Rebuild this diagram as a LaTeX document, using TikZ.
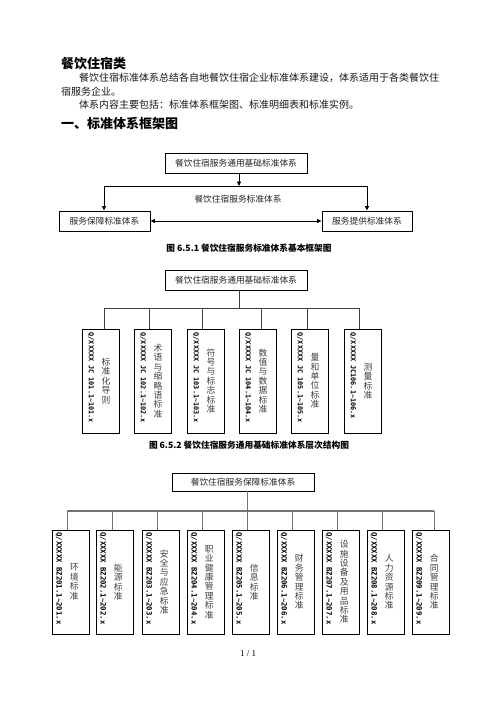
\documentclass[tikz,border=0pt]{standalone}
\usepackage{fontspec}
\setmainfont{Liberation Serif}
\newfontfamily\cjk{Noto Sans CJK SC}
\newfontfamily\codef{DejaVu Sans Mono}
\usetikzlibrary{arrows.meta,calc}
\tikzset{
  box/.style={draw=black, line width=0.9pt, inner sep=0pt, font=\cjk\fontsize{8.7}{10}\selectfont, text=black!85},
  vbox/.style={draw=black, line width=0.9pt, inner sep=0pt, minimum width=37pt, minimum height=104pt},
  arr/.style={-{Triangle[length=4.5pt,width=4pt]}, line width=0.9pt},
  darr/.style={{Triangle[length=4.5pt,width=4pt]}-{Triangle[length=4.5pt,width=4pt]}, line width=0.9pt},
  conn/.style={draw=black!75, line width=0.8pt},
  conn3/.style={draw=black!55, line width=0.9pt},
  bus3/.style={draw=black!55, line width=1.5pt},
  codeA/.style={font=\codef\bfseries\fontsize{6.8}{7}\selectfont, inner sep=0pt, rotate=-90, anchor=west},
  codeB/.style={font=\codef\bfseries\fontsize{7.3}{8}\selectfont, inner sep=0pt, rotate=-90, anchor=west},
  vcn/.style={font=\cjk\fontsize{8.8}{9.4}\selectfont, align=center, inner sep=0pt, text=black!75},
  lbl/.style={font=\cjk\fontsize{8.7}{10}\selectfont, text=black!85, inner sep=0pt},
  captxt/.style={font=\cjk\bfseries\fontsize{8.7}{10}\selectfont, inner sep=0pt},
  para/.style={font=\cjk\fontsize{10}{12}\selectfont, anchor=west, inner sep=0pt, text=black!90},
  headtxt/.style={font=\cjk\bfseries\fontsize{13}{14}\selectfont, anchor=west, inner sep=0pt},
}
\begin{document}
\begin{tikzpicture}[x=1pt,y=-1pt]
\useasboundingbox[fill=white] (0,0) rectangle (496,702);

% heading text
\node[headtxt] (title) at (61,63.5) {餐饮住宿类};
\node[para] (p1) at (79,78) {餐饮住宿标准体系总结各自地餐饮住宿企业标准体系建设，体系适用于各类餐饮住};
\node[para] (p2) at (61,92) {宿服务企业。};
\node[para] (p3) at (79,105) {体系内容主要包括：标准体系框架图、标准明细表和标准实例。};
\node[headtxt] (h1) at (61,124) {一、标准体系框架图};

% ---------- Figure 6.5.1 ----------
\node[box, minimum width=142pt, minimum height=20pt] (t1) at (236,163) {餐饮住宿服务通用基础标准体系};
\coordinate (j1) at (239,186);
\coordinate (hl1) at (104,186);
\coordinate (hr1) at (367,186);
\node[box, minimum width=91pt, minimum height=20pt] (sl) at (104.5,221) {服务保障标准体系};
\node[box, minimum width=90pt, minimum height=20pt] (sr) at (367,221) {服务提供标准体系};
\draw[arr] (j1 |- t1.south) -- (j1);
\draw[line width=0.9pt] (hl1) -- (hr1);
\draw[arr] (hl1) -- (sl.north -| hl1);
\draw[arr] (hr1) -- (sr.north -| hr1);
\draw[darr] (sl.east) -- (sr.west);
\node[lbl] (lab1) at (238,199) {餐饮住宿服务标准体系};
\node[captxt] (cap1) at (249,248) {图 6.5.1 餐饮住宿服务标准体系基本框架图};

% ---------- Figure 6.5.2 ----------
\node[box, minimum width=142pt, minimum height=20pt] (t2) at (236,280) {餐饮住宿服务通用基础标准体系};
\coordinate (j2) at (239,308);
\draw[conn] (j2 |- t2.south) -- (j2);
\coordinate (hl2) at (104,308);
\coordinate (hr2) at (359,308);
\draw[conn] (hl2) -- (hr2);
\foreach \i/\lx/\dx/\cd/\tx in {
  1/82/104/{Q/XXXXX JC 101.1\textasciitilde101.x}/{标\\准\\化\\导\\则},
  2/134/149/{Q/XXXXX JC 102.1\textasciitilde102.x}/{术\\语\\与\\缩\\略\\语\\标\\准},
  3/187/202/{Q/XXXXX JC 103.1\textasciitilde103.x}/{符\\号\\与\\标\\志\\标\\准},
  4/239/261/{Q/XXXXX JC 104.1\textasciitilde104.x}/{数\\值\\与\\数\\据\\标\\准},
  5/291/307/{Q/XXXXX JC 105.1\textasciitilde105.x}/{量\\和\\单\\位\\标\\准},
  6/344/359/{Q/XXXXX JC106.1\textasciitilde106.x}/{测\\量\\标\\准}}{
  \node[vbox] (a\i) at (\lx+18.5,381) {};
  \coordinate (da\i) at (\dx,308);
  \draw[conn] (da\i) -- (a\i.north -| da\i);
  \node[codeA] (ca\i) at ($(a\i.north west)+(9.5pt,-4pt)$) {\cd};
  \node[vcn] (na\i) at ($(a\i.west)+(24.5pt,0)$) {\tx};
}
\node[captxt] (cap2) at (249,445) {图 6.5.2 餐饮住宿服务通用基础标准体系层次结构图};

% ---------- Figure 6.5.3 ----------
\node[box, minimum width=142pt, minimum height=18pt] (t3) at (243,482) {餐饮住宿服务保障标准体系};
\coordinate (j3) at (247,511);
\draw[conn3] (j3 |- t3.south) -- (j3);
\coordinate (hl3) at (67,511);
\coordinate (hr3) at (434,511);
\draw[bus3] (hl3) -- (hr3);
\foreach \i/\lx/\dx/\tx in {
  1/52/67/{环\\境\\标\\准},
  2/96/112/{能\\源\\标\\准},
  3/142/157/{安\\全\\与\\应\\急\\标\\准},
  4/187/202/{职\\业\\健\\康\\管\\理\\标\\准},
  5/232/247/{信\\息\\标\\准},
  6/277/292/{财\\务\\管\\理\\标\\准},
  7/322/337/{设\\施\\设\\备\\及\\用\\品\\标\\准},
  8/367/382/{人\\力\\资\\源\\标\\准},
  9/412/434/{合\\同\\管\\理\\标\\准}}{
  \node[vbox] (b\i) at (\lx+18.5,582) {};
  \coordinate (db\i) at (\dx,511);
  \draw[conn3] (db\i) -- (b\i.north -| db\i);
  \node[codeB] (cb\i) at ($(b\i.north west)+(7.2pt,-2.5pt)$) {Q/XXXXX BZ20\i.1\textasciitilde20\i.x};
  \node[vcn] (nb\i) at ($(b\i.west)+(22.8pt,0)$) {\tx};
}

% page number
\node[font=\fontsize{9}{10}\selectfont, inner sep=0pt] (pg) at (248,654) {1 / 1};
\end{tikzpicture}
\end{document}
